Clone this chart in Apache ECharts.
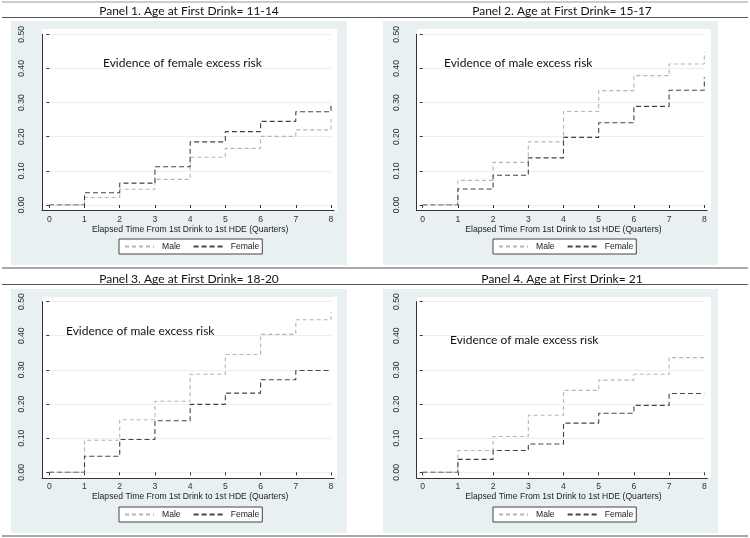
<!DOCTYPE html>
<html><head><meta charset="utf-8">
<script src="https://cdn.jsdelivr.net/npm/echarts@6/dist/echarts.min.js"></script>
<style>html,body{margin:0;padding:0;background:#fff}#c{width:750px;height:538px}</style>
</head><body><div id="c"></div>
<script>
// ---- data ----
const quarters = [0, 1, 2, 3, 4, 5, 6, 7, 8];
const yTickValues = [0, 0.1, 0.2, 0.3, 0.4, 0.5];
const panelTitles = [
  'Panel 1. Age at First Drink= 11-14',
  'Panel 2. Age at First Drink= 15-17',
  'Panel 3. Age at First Drink= 18-20',
  'Panel 4. Age at First Drink= 21'
];
const panelNotes = [
  'Evidence of female excess risk',
  'Evidence of male excess risk',
  'Evidence of male excess risk',
  'Evidence of male excess risk'
];
const xAxisTitle = 'Elapsed Time From 1st Drink to 1st HDE (Quarters)';
const seriesNames = ['Male', 'Female'];
const male1   = [0, 0.022, 0.046, 0.075, 0.140, 0.166, 0.201, 0.220, 0.255];
const female1 = [0, 0.036, 0.064, 0.112, 0.185, 0.215, 0.245, 0.273, 0.298];
const male2   = [0, 0.072, 0.125, 0.185, 0.274, 0.335, 0.379, 0.413, 0.449];
const female2 = [0, 0.047, 0.087, 0.138, 0.198, 0.241, 0.289, 0.336, 0.374];
const male3   = [0, 0.094, 0.154, 0.208, 0.287, 0.345, 0.404, 0.447, 0.470];
const female3 = [0, 0.047, 0.096, 0.151, 0.199, 0.232, 0.271, 0.298, 0.298];
const male4   = [0, 0.064, 0.105, 0.167, 0.240, 0.270, 0.287, 0.336, 0.336];
const female4 = [0, 0.038, 0.064, 0.083, 0.144, 0.173, 0.196, 0.231, 0.231];
const maleSeries = [male1, male2, male3, male4];
const femaleSeries = [female1, female2, female3, female4];

// ---- layout (pixels) ----
const panels = [
  {bg:[11,21,336,244], white:[42,29,295,182], ax:42, ay:210.7, d:[49.3,34.3,331,205], note:[103,63], title:[189,10.7], legend:[119,239]},
  {bg:[383,21,335,244], white:[417,29,294,182], ax:416.7, ay:210.7, d:[422.7,34.3,704.3,205], note:[444,63], title:[562,10.7], legend:[493,239]},
  {bg:[11,289,336,244], white:[42,297,295,181], ax:42, ay:478, d:[49.3,301.6,331,472.3], note:[66,331], title:[189,278.7], legend:[119,507]},
  {bg:[383,289,335,244], white:[417,297,294,181], ax:416.7, ay:478, d:[422.7,301.6,704.3,472.3], note:[450,340], title:[562,278.7], legend:[493,507]}
];
const sepLines = [[2,'#9a9a9a'],[17.5,'#555'],[268,'#555'],[284.5,'#555'],[536,'#555']];

const maleStyle = {color:'#b5b5b5', width:1.1, type:[4,3]};
const femaleStyle = {color:'#444444', width:1.1, type:[5,3]};
const axisColor = '#333';
const tickFont = {fontFamily:'Liberation Sans', fontSize:8.6, color:'#333'};

const grids = [], xAxes = [], yAxes = [], series = [], legends = [], graphics = [];
sepLines.forEach(([y,c]) => graphics.push({type:'line', silent:true, z:-5, shape:{x1:2,y1:y,x2:748,y2:y}, style:{stroke:c, lineWidth:1.2}}));

panels.forEach((p, i) => {
  const [dl, dt, dr, db] = p.d;
  // line grid (axis lines)
  grids.push({left:p.ax, top:dt, width:dr + 3 - p.ax, height:p.ay - dt, containLabel:false, outerBoundsMode:'none'});
  xAxes.push({gridIndex:2*i, type:'value', min:0, max:1, axisLine:{show:true, lineStyle:{color:axisColor, width:1}}, axisTick:{show:false}, axisLabel:{show:false}, splitLine:{show:false}});
  yAxes.push({gridIndex:2*i, type:'value', min:0, max:1, axisLine:{show:true, lineStyle:{color:axisColor, width:1}}, axisTick:{show:false}, axisLabel:{show:false}, splitLine:{show:false}});
  // data grid
  grids.push({left:dl, top:dt, width:dr - dl, height:db - dt, containLabel:false, outerBoundsMode:'none'});
  xAxes.push({gridIndex:2*i+1, type:'value', min:quarters[0], max:quarters[quarters.length-1], interval:1,
    offset:p.ay - db,
    axisLine:{show:false}, axisTick:{show:true, length:3, lineStyle:{color:axisColor}},
    axisLabel:Object.assign({margin:4}, tickFont), splitLine:{show:false},
    name:xAxisTitle, nameLocation:'middle', nameGap:14, nameTextStyle:{fontFamily:'Liberation Sans', fontSize:8.6, color:'#222'}});
  yAxes.push({gridIndex:2*i+1, type:'value', min:yTickValues[0], max:yTickValues[yTickValues.length-1], interval:0.1,
    offset:dl - p.ax,
    axisLine:{show:false}, axisTick:{show:true, length:3, lineStyle:{color:axisColor}},
    axisLabel:Object.assign({margin:16, rotate:90, formatter:v => v.toFixed(2)}, tickFont),
    splitLine:{show:true, lineStyle:{color:'#eceeee', width:1}}});
  [[seriesNames[0], maleSeries[i], maleStyle], [seriesNames[1], femaleSeries[i], femaleStyle]].forEach(([name, arr, st]) => {
    series.push({type:'line', name, xAxisIndex:2*i+1, yAxisIndex:2*i+1, step:'end', symbol:'none', silent:true,
      data:quarters.map((q, j) => [q, arr[j]]), lineStyle:st, itemStyle:{color:st.color}, animation:false});
  });
  legends.push({left:p.legend[0], top:p.legend[1], data:seriesNames, orient:'horizontal',
    itemWidth:29, itemHeight:10, itemGap:12, padding:[3,3,3,5], borderColor:'#444', borderWidth:1, borderRadius:0,
    backgroundColor:'#fff', selectedMode:false, itemStyle:{opacity:0},
    textStyle:{fontFamily:'Liberation Sans', fontSize:8.6, color:'#222', padding:[0,0,0,3]}});
  graphics.push({type:'rect', silent:true, z:-10, shape:{x:p.bg[0], y:p.bg[1], width:p.bg[2], height:p.bg[3]}, style:{fill:'#e9f0f2'}});
  graphics.push({type:'rect', silent:true, z:-9, shape:{x:p.white[0], y:p.white[1], width:p.white[2], height:p.white[3]}, style:{fill:'#ffffff'}});
  graphics.push({type:'text', silent:true, x:p.title[0], y:p.title[1], style:{text:panelTitles[i], font:'12px Lato', fill:'#111', align:'center', verticalAlign:'middle'}});
  graphics.push({type:'text', silent:true, x:p.note[0], y:p.note[1], style:{text:panelNotes[i], font:'12px Lato', fill:'#111', align:'left', verticalAlign:'middle'}});
});

const chart = echarts.init(document.getElementById('c'), null, {renderer:'canvas'});
chart.setOption({
  animation:false,
  backgroundColor:'#fff',
  grid:grids, xAxis:xAxes, yAxis:yAxes, series, legend:legends, graphic:graphics
});
</script></body></html>
